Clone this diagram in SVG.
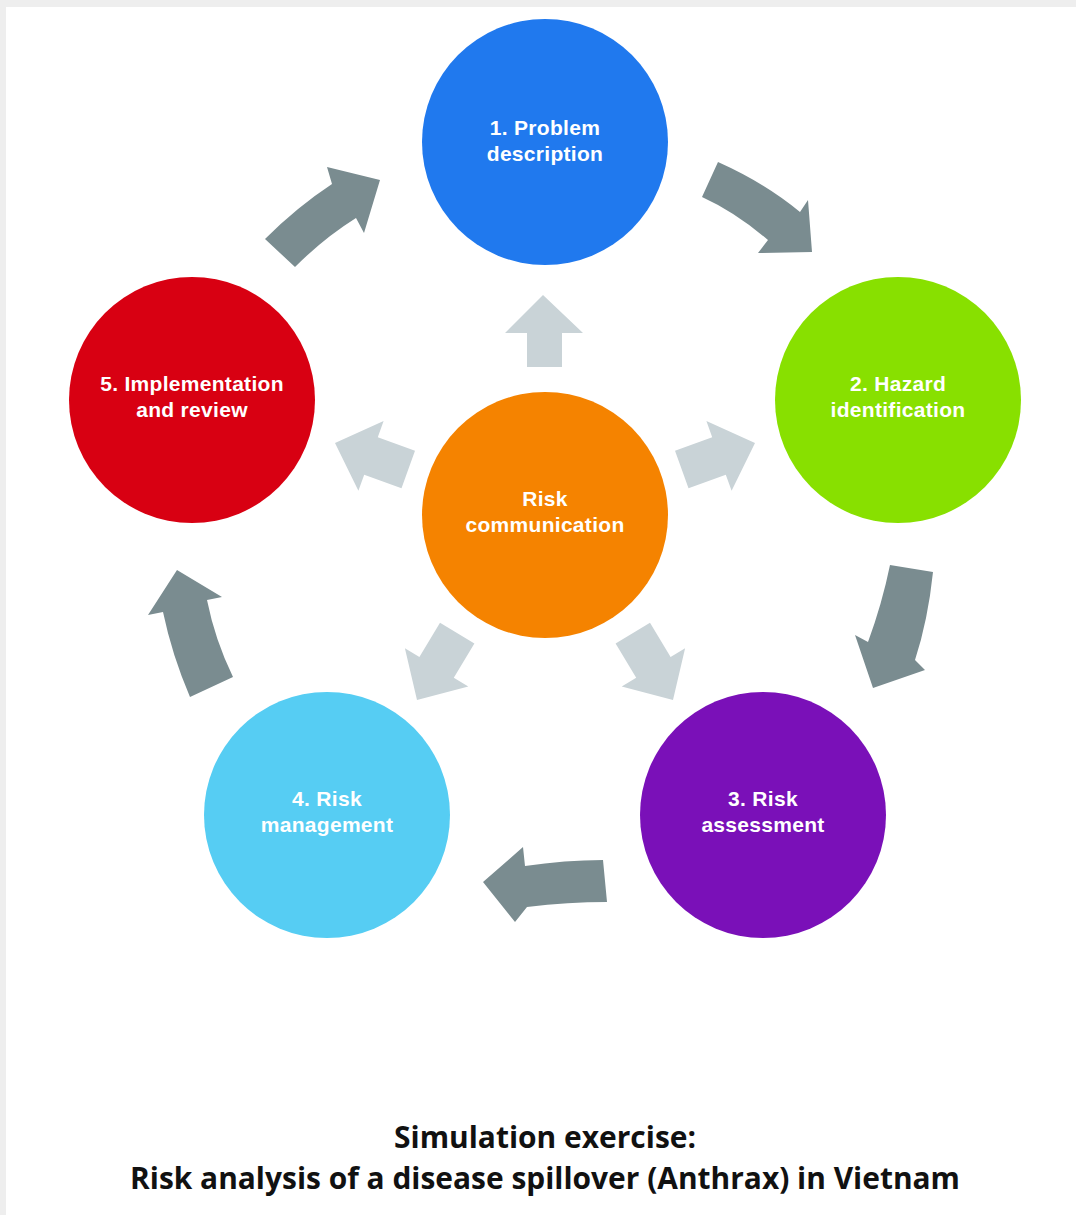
<svg xmlns="http://www.w3.org/2000/svg" width="1076" height="1215" viewBox="0 0 1076 1215">
<style>
.dark{fill:#7a8c90}
.light{fill:#c9d3d7}
.lbl{font-family:"Liberation Sans",Arial,sans-serif;font-weight:bold;font-size:21px;letter-spacing:0.3px;fill:#ffffff;text-anchor:middle}
.title{font-family:"Open Sans","Liberation Sans",sans-serif;font-weight:bold;font-size:31px;fill:#111111;text-anchor:middle}
</style>
<rect x="0" y="0" width="1076" height="1215" fill="#eeeeee"/>
<rect x="6" y="7" width="1070" height="1208" fill="#ffffff"/>
<g id="connectors">
<path class="dark" d="M265,239 Q297,207 332,184 L327,167 L380,180 L364,233 L356,218 Q324,238 295,267 Z"/>
<path class="dark" d="M718,162 Q765,183 800,212 L808,200 L812,252 L758,253 L768,240 Q735,212 702,197 Z"/>
<path class="dark" d="M933,572 Q928,620 915,660 L925,670 L873,688 L855,635 L868,642 Q882,604 890,565 Z"/>
<path class="dark" d="M603,860 Q565,860 525,866 L523,847 L483,882 L515,922 L527,907 Q568,902 607,902 Z"/>
<path class="dark" d="M233,677 Q215,640 207,600 L222,597 L177,570 L148,615 L163,612 Q172,655 190,697 Z"/>
<polygon class="light" points="543,295 583,333 562,333 562,367 527,367 527,333 505,333"/>
<polygon class="light" points="335,443 383.6,421 377.8,437.2 415,450.7 401.5,488.3 364.2,474.8 358.4,490.8"/>
<polygon class="light" points="755,443 706.4,421 712.2,437.2 675,450.7 688.5,488.3 725.8,474.8 731.6,490.8"/>
<polygon class="light" points="417,700 404.9,648.3 419.4,657.1 440,622.8 474.4,643.4 453.8,677.7 468.3,686.5"/>
<polygon class="light" points="673,700 685.1,648.3 670.6,657.1 650,622.8 615.6,643.4 636.2,677.7 621.7,686.5"/>
</g>
<g id="node1">
<circle cx="545" cy="142" r="123" fill="#2079ee"/>
<text class="lbl" x="545" y="135">1. Problem</text>
<text class="lbl" x="545" y="161">description</text>
</g>
<g id="node2">
<circle cx="898" cy="400" r="123" fill="#88e000"/>
<text class="lbl" x="898" y="391">2. Hazard</text>
<text class="lbl" x="898" y="417">identification</text>
</g>
<g id="node3">
<circle cx="763" cy="815" r="123" fill="#7a10b8"/>
<text class="lbl" x="763" y="806">3. Risk</text>
<text class="lbl" x="763" y="832">assessment</text>
</g>
<g id="node4">
<circle cx="327" cy="815" r="123" fill="#56cdf3"/>
<text class="lbl" x="327" y="806">4. Risk</text>
<text class="lbl" x="327" y="832">management</text>
</g>
<g id="node5">
<circle cx="192" cy="400" r="123" fill="#d80012"/>
<text class="lbl" x="192" y="391">5. Implementation</text>
<text class="lbl" x="192" y="417">and review</text>
</g>
<g id="center">
<circle cx="545" cy="515" r="123" fill="#f58300"/>
<text class="lbl" x="545" y="506">Risk</text>
<text class="lbl" x="545" y="532">communication</text>
</g>
<g id="title">
<text class="title" x="545" y="1148" textLength="302" lengthAdjust="spacingAndGlyphs">Simulation exercise:</text>
<text class="title" x="545" y="1189" textLength="830" lengthAdjust="spacingAndGlyphs">Risk analysis of a disease spillover (Anthrax) in Vietnam</text>
</g>
</svg>
